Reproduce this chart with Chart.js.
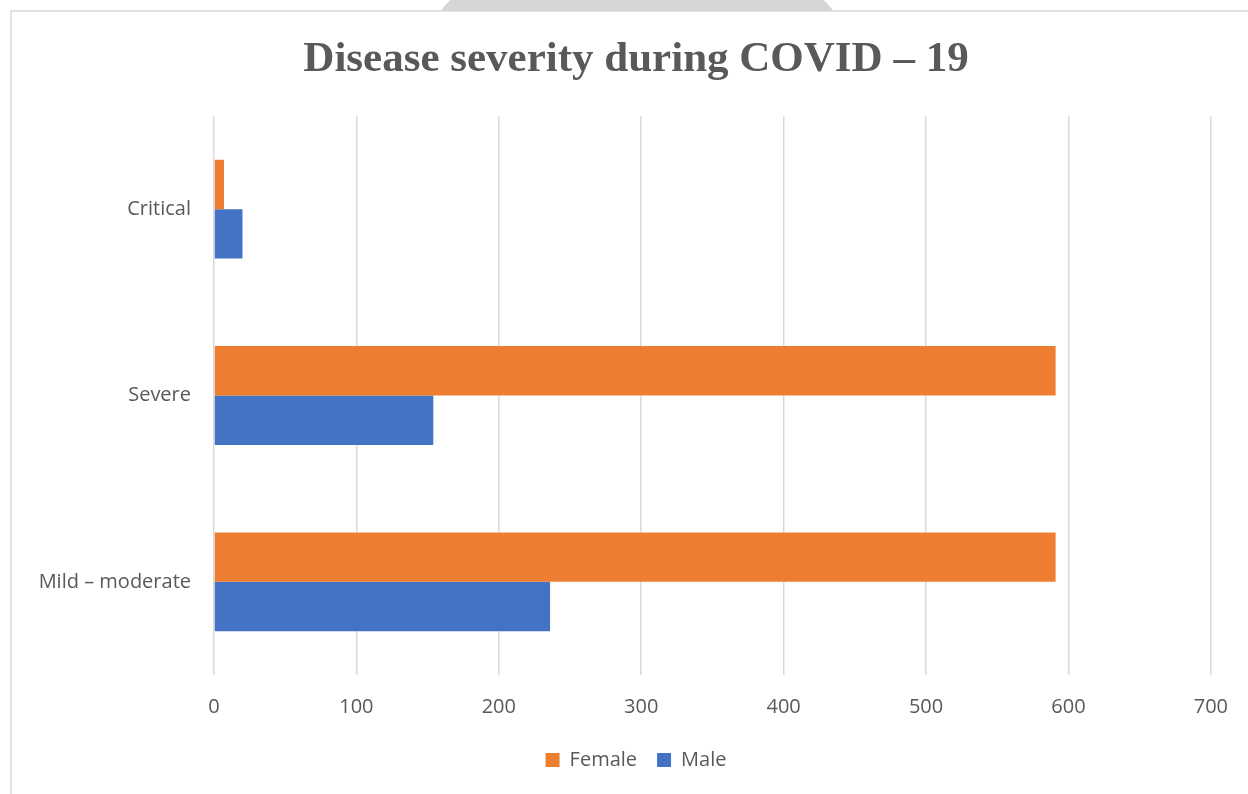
<!DOCTYPE html>
<html>
<head>
<meta charset="utf-8">
<script src="https://cdn.jsdelivr.net/npm/chart.js@4"></script>
<style>
	html, body { margin: 0; padding: 0; background: #fff; }
	#wrap { position: relative; width: 1248px; height: 794px; }
</style>
</head>
<body>
<div id="wrap"><canvas id="severity" width="1248" height="794"></canvas></div>
<script>
// Disease severity chart data
const categories = ['Critical', 'Severe', 'Mild – moderate'];
const femaleValues = [7, 591, 591];
const maleValues = [20, 154, 236];
const xTicks = [0, 100, 200, 300, 400, 500, 600, 700];

const textGrey = '#595959';
const tickFont = { family: '"Open Sans", Lato, sans-serif', size: 20 };

// page frame and the grey smudge at the top of the scan
const framePlugin = {
	id: 'frame',
	afterLayout(chart) {
		// title and legend are centred a bit right of the canvas middle
		let shift = 61;
		chart.titleBlock.left = shift;
		chart.titleBlock.width = chart.titleBlock.right - shift;
		chart.legend.left = shift;
		chart.legend.width = chart.legend.right - shift;
	},
	beforeDraw(chart) {
		let ctx = chart.ctx;
		ctx.save();
		ctx.fillStyle = '#fff';
		ctx.fillRect(0, 0, chart.width, chart.height);
		ctx.beginPath();
		ctx.rect(0, 0, chart.width, 11);
		ctx.clip();
		ctx.fillStyle = '#d6d6d6';
		ctx.beginPath();
		ctx.ellipse(637, 20, 198, 60, 0, 0, Math.PI * 2);
		ctx.fill();
		ctx.restore();
		ctx.save();
		ctx.strokeStyle = '#d9d9d9';
		ctx.lineWidth = 1.5;
		ctx.strokeRect(11, 11, chart.width + 50, chart.height + 50);
		ctx.restore();
	}
};

document.addEventListener('DOMContentLoaded', () => {
	let ctx = document.querySelector('#severity').getContext('2d');
	new Chart(ctx, {
		type: 'bar',
		data: {
			labels: categories,
			datasets: [
				{ label: 'Female', data: femaleValues, backgroundColor: '#ed7d31' },
				{ label: 'Male', data: maleValues, backgroundColor: '#4472c4' }
			]
		},
		options: {
			indexAxis: 'y',
			responsive: false,
			animation: false,
			layout: { padding: { left: 0, right: 37, top: 0, bottom: 14 } },
			datasets: { bar: { categoryPercentage: 0.53, barPercentage: 1 } },
			plugins: {
				title: {
					display: true,
					text: 'Disease severity during COVID – 19',
					color: textGrey,
					font: { family: '"Liberation Serif", "Times New Roman", serif', size: 43, weight: 'bold' },
					padding: { top: 34, bottom: 30.4 }
				},
				legend: {
					position: 'bottom',
					labels: {
						color: textGrey,
						font: tickFont,
						boxWidth: 14,
						boxHeight: 14,
						padding: 20
					}
				},
				tooltip: { enabled: false }
			},
			scales: {
				x: {
					min: 0,
					max: 700,
					afterBuildTicks: scale => { scale.ticks = xTicks.map(v => ({ value: v })); },
					afterFit: scale => { scale.height = 55; },
					grid: { color: '#d9d9d9', lineWidth: 1.5, drawTicks: false },
					border: { display: false },
					ticks: { color: textGrey, font: tickFont, padding: 20 }
				},
				y: {
					afterFit: scale => { scale.width = 214; },
					grid: { display: false },
					border: { display: false },
					ticks: { color: textGrey, font: tickFont, padding: 15 }
				}
			}
		},
		plugins: [framePlugin]
	});
});
</script>
</body>
</html>
